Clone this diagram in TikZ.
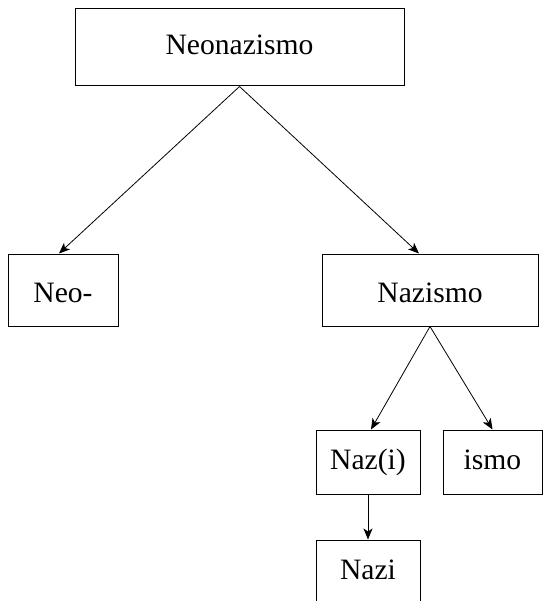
\documentclass[tikz,border=0pt]{standalone}
\usepackage{fontspec}
\setmainfont{Liberation Serif}
\usepackage{tikz}
\usetikzlibrary{positioning,arrows.meta}

\begin{document}
\begin{tikzpicture}[x=1pt,y=-1pt,
  wordbox/.style={draw,line width=1pt,inner sep=0pt,font=\fontsize{29.6}{35}\selectfont,
    text height=21pt,text depth=6pt},
  lowword/.style={wordbox,text height=26pt,text depth=2pt},
  link/.style={line width=0.8pt,-{Stealth[length=11pt,width=9pt,inset=3pt]}}]
  \useasboundingbox (0,0) rectangle (542,601);
  % top word
  \node[wordbox,minimum width=329pt,minimum height=77pt] (neonazismo) at (239.5,47.5) {Neonazismo};
  % second level
  \node[lowword,minimum width=110pt,minimum height=72pt] (neo) at (63,290) {Neo-};
  \node[lowword,minimum width=216pt,minimum height=72pt] (nazismo) at (430,290) {Nazismo};
  % third level
  \node[wordbox,minimum width=104pt,minimum height=64pt] (nazparen) at (368,462) {Naz(i)};
  \node[wordbox,minimum width=99pt,minimum height=64pt,right=22pt of nazparen] (ismo) {ismo};
  \node[wordbox,minimum width=104pt,minimum height=64pt,below=45pt of nazparen] (nazi) {Nazi};
  % arrows
  \draw[link] (neonazismo.south) -- ([xshift=-4pt]neo.north);
  \draw[link] (neonazismo.south) -- ([xshift=-11pt]nazismo.north);
  \draw[link] (nazismo.south) -- ([xshift=3pt]nazparen.north);
  \draw[link] (nazismo.south) -- (ismo.north);
  \draw[link] (nazparen.south) -- (nazi.north);
\end{tikzpicture}
\end{document}
